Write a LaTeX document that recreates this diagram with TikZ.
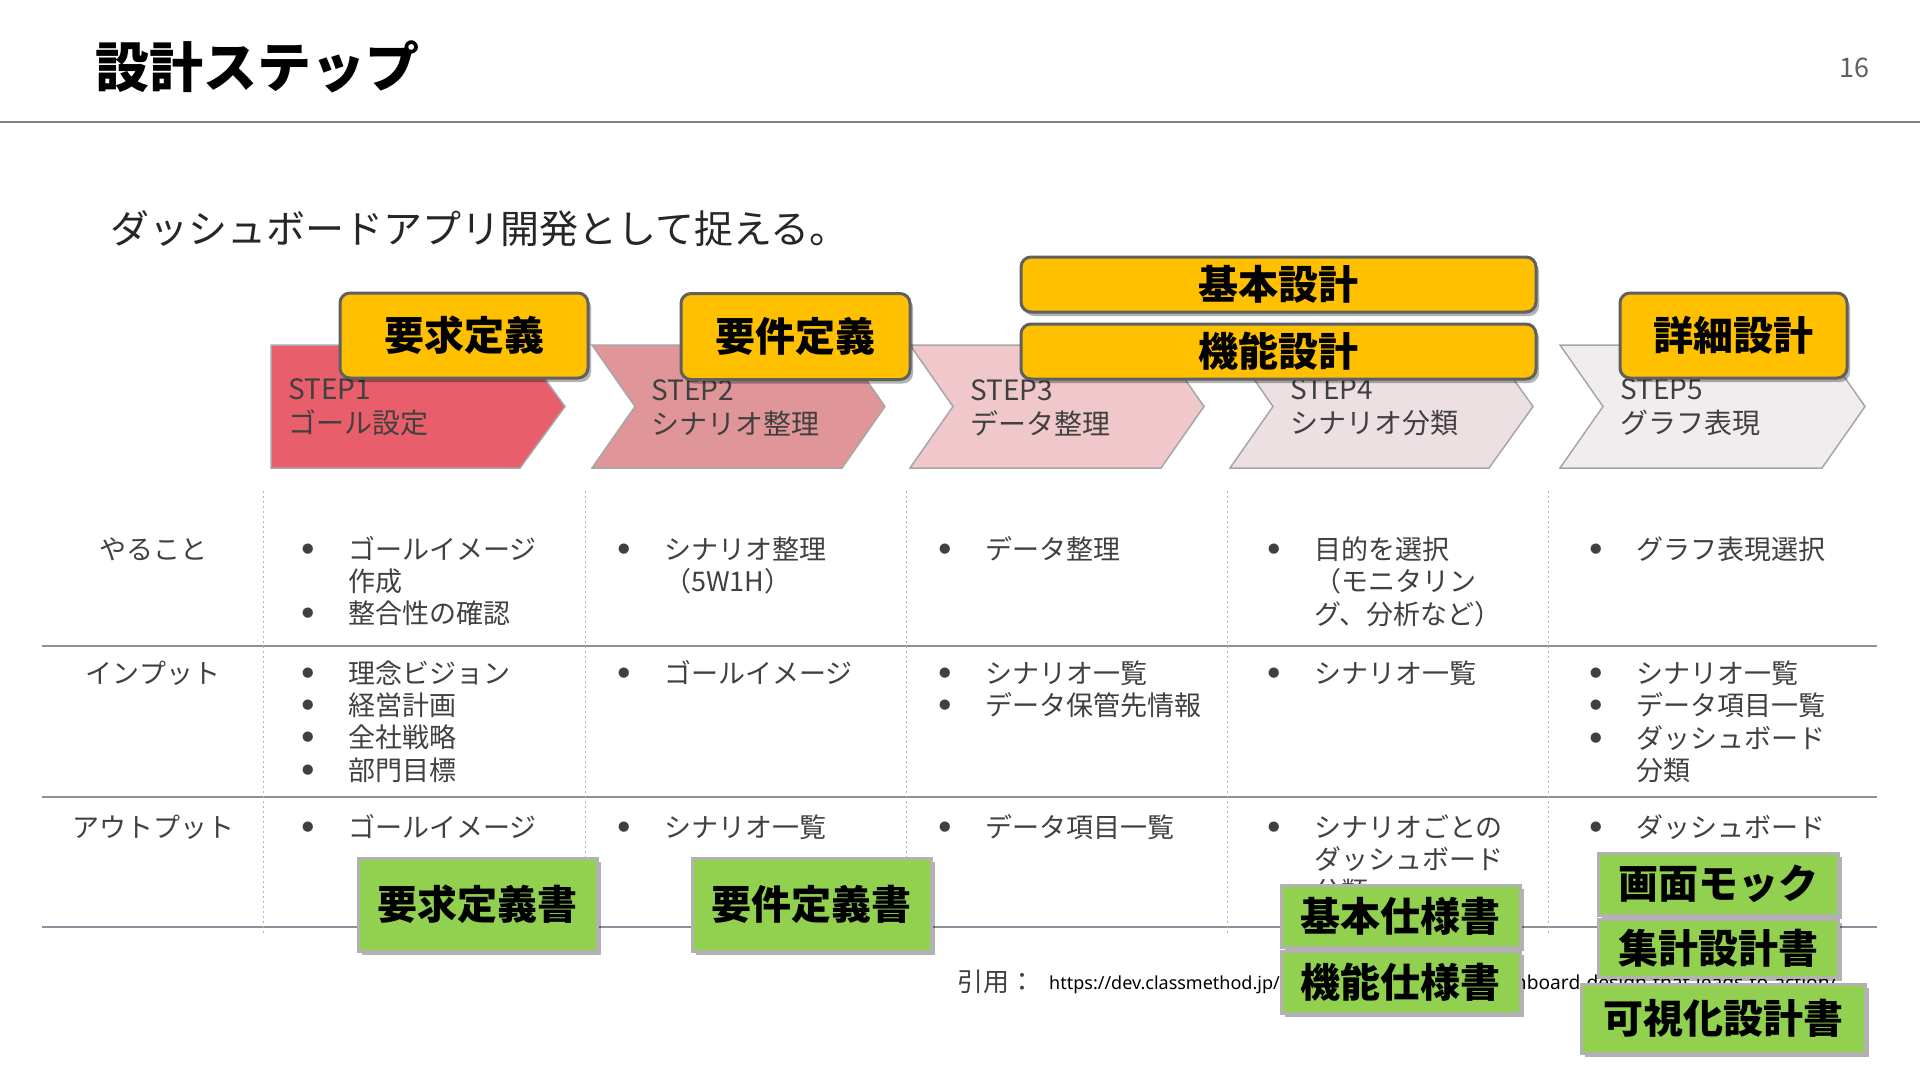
\documentclass[tikz,border=0pt]{standalone}
\usepackage{fontspec}
\setmainfont{Noto Sans CJK JP}
\newfontfamily\urlfont{Noto Sans}
\usetikzlibrary{positioning,shadows}

\definecolor{stepa}{RGB}{232,95,107}
\definecolor{stepb}{RGB}{224,150,153}
\definecolor{stepc}{RGB}{240,200,203}
\definecolor{stepd}{RGB}{237,224,226}
\definecolor{stepe}{RGB}{241,236,237}
\definecolor{phasefill}{RGB}{255,192,0}
\definecolor{docfill}{RGB}{146,208,80}
\definecolor{gridline}{RGB}{140,146,156}
\definecolor{bodytext}{RGB}{64,64,64}

\newcommand{\bl}{\makebox[46pt][l]{\raisebox{6pt}{\fontsize{11.5}{12}\selectfont ●}}}
\newcommand{\nb}{\hspace*{46pt}}
\newcommand{\items}[1]{\begin{tabular}[t]{@{}l@{}}#1\end{tabular}}

\begin{document}
\begin{tikzpicture}[x=1pt, y=-1pt,
	chev/.style={draw=gray!70, line width=1.5pt},
	steplabel/.style={anchor=west, align=left, inner sep=0pt, text=bodytext, font=\fontsize{28}{34}\selectfont},
	phase/.style={draw=gray!75!black, line width=3pt, fill=phasefill, rounded corners=10pt, inner sep=0pt,
		font=\bfseries\fontsize{40}{40}\selectfont, drop shadow={shadow xshift=3pt, shadow yshift=-4pt, fill=black, opacity=0.3}},
	docbox/.style={draw=gray!60, line width=3pt, fill=docfill, inner sep=0pt, minimum width=239pt,
		font=\bfseries\fontsize{40}{40}\selectfont, drop shadow={shadow xshift=4pt, shadow yshift=-4pt, fill=black, opacity=0.3}},
	rowhead/.style={anchor=base, inner sep=0pt, text=bodytext, font=\fontsize{27}{32}\selectfont},
	cell/.style={anchor=base west, inner sep=0pt, text=bodytext, font=\fontsize{27}{32}\selectfont},
	sep/.style={draw=gridline, line width=2pt},
	colsep/.style={draw=gray!60, line width=1pt, dash pattern=on 2pt off 3pt}]

	\useasboundingbox (0,0) rectangle (1920,1080);

	% header
	\node [anchor=west, inner sep=0pt, font=\bfseries\fontsize{54}{54}\selectfont] (title) at (95,67) {設計ステップ};
	\node [inner sep=0pt, text=gray!75!black, font=\fontsize{27}{27}\selectfont] (page) at (1854,68) {16};
	\draw [draw=gray, line width=2.5pt] (0,122) -- (1920,122);
	\node [anchor=west, inner sep=0pt, text=black!85, font=\fontsize{39}{39}\selectfont] (lead) at (110,229) {ダッシュボードアプリ開発として捉える。};

	% steps
	\draw [chev, fill=stepa] (271,345) -- (520,345) -- (565,406.5) -- (520,468) -- (271,468) -- cycle;
	\draw [chev, fill=stepb] (592,345) -- (842,345) -- (885,406.5) -- (842,468) -- (592,468) -- (635,406.5) -- cycle;
	\draw [chev, fill=stepc] (910,345) -- (1161,345) -- (1204,406.5) -- (1161,468) -- (910,468) -- (953,406.5) -- cycle;
	\draw [chev, fill=stepd] (1230,345) -- (1489,345) -- (1533,406.5) -- (1489,468) -- (1230,468) -- (1273,406.5) -- cycle;
	\draw [chev, fill=stepe] (1560,345) -- (1822,345) -- (1865,406.5) -- (1822,468) -- (1560,468) -- (1603,406.5) -- cycle;

	\node [steplabel] (s1) at (288,407.5) {STEP1\\ゴール設定};
	\node [steplabel] (s2) at (651,407.5) {STEP2\\シナリオ整理};
	\node [steplabel] (s3) at (970,407.5) {STEP3\\データ整理};
	\node [steplabel] (s4) at (1290,407.5) {STEP4\\シナリオ分類};
	\node [steplabel] (s5) at (1620,407.5) {STEP5\\グラフ表現};

	% phases
	\node [phase, minimum width=248pt, minimum height=85pt] (req) at (464,335.5) {要求定義};
	\node [phase, minimum width=229pt, minimum height=86pt] (reqs) at (795.5,336.5) {要件定義};
	\node [phase, minimum width=515pt, minimum height=55pt] (basic) at (1278.5,284.5) {基本設計};
	\node [phase, minimum width=515pt, minimum height=55pt, below=9pt of basic] (func) {機能設計};
	\node [phase, minimum width=227pt, minimum height=85pt] (detail) at (1733.5,335.5) {詳細設計};

	% table
	\draw [sep] (42,646) -- (1877,646);
	\draw [sep] (42,797) -- (1877,797);
	\draw [sep] (42,927) -- (1877,927);
	\draw [colsep] (263,491) -- (263,933);
	\draw [colsep] (585,491) -- (585,933);
	\draw [colsep] (906,491) -- (906,933);
	\draw [colsep] (1227,491) -- (1227,933);
	\draw [colsep] (1548,491) -- (1548,933);

	\node [rowhead] (todo) at (153,559) {やること};
	\node [rowhead] (input) at (153,683) {インプット};
	\node [rowhead] (output) at (153,837) {アウトプット};

	\node [cell] (todo1) at (302,559) {\items{\bl ゴールイメージ\\\nb 作成\\\bl 整合性の確認}};
	\node [cell] (todo2) at (618,559) {\items{\bl シナリオ整理\\\nb （5W1H）}};
	\node [cell] (todo3) at (939,559) {\items{\bl データ整理}};
	\node [cell] (todo4) at (1268,559) {\items{\bl 目的を選択\\\nb （モニタリン\\\nb グ、分析など）}};
	\node [cell] (todo5) at (1590,559) {\items{\bl グラフ表現選択}};

	\node [cell] (input1) at (302,683) {\items{\bl 理念ビジョン\\\bl 経営計画\\\bl 全社戦略\\\bl 部門目標}};
	\node [cell] (input2) at (618,683) {\items{\bl ゴールイメージ}};
	\node [cell] (input3) at (939,683) {\items{\bl シナリオ一覧\\\bl データ保管先情報}};
	\node [cell] (input4) at (1268,683) {\items{\bl シナリオ一覧}};
	\node [cell] (input5) at (1590,683) {\items{\bl シナリオ一覧\\\bl データ項目一覧\\\bl ダッシュボード\\\nb 分類}};

	\node [cell] (output1) at (302,837) {\items{\bl ゴールイメージ}};
	\node [cell] (output2) at (618,837) {\items{\bl シナリオ一覧}};
	\node [cell] (output3) at (939,837) {\items{\bl データ項目一覧}};
	\node [cell] (output4) at (1268,837) {\items{\bl シナリオごとの\\\nb ダッシュボード\\\nb 分類}};
	\node [cell] (output5) at (1590,837) {\items{\bl ダッシュボード}};

	% source
	\node [anchor=west, inner sep=0pt, text=bodytext, font=\fontsize{26}{26}\selectfont] (cite) at (957,982) {引用：};
	\node [anchor=base west, inner sep=0pt, font=\urlfont\fontsize{18}{18}\selectfont] (url) at (1049,989) {https://dev.classmethod.jp/};
	\node [anchor=base east, inner sep=0pt, font=\urlfont\fontsize{19.2}{19.2}\selectfont] (urltail) at (1837,989) {dashboard-design-that-leads-to-action/};

	% documents
	\node [docbox, minimum height=93pt] (reqdoc) at (477.5,904.5) {要求定義書};
	\node [docbox, minimum height=93pt] (reqsdoc) at (811.5,904.5) {要件定義書};
	\node [docbox, minimum height=62pt] (basicspec) at (1400.5,916) {基本仕様書};
	\node [docbox, minimum height=62pt, below=1pt of basicspec] (funcspec) {機能仕様書};
	\node [docbox, minimum width=240pt, minimum height=62pt] (mock) at (1718,884) {画面モック};
	\node [docbox, minimum width=240pt, minimum height=58pt, below=1pt of mock] (aggr) {集計設計書};
	\node [docbox, minimum width=284pt, minimum height=69pt] (vis) at (1723,1018.5) {可視化設計書};
\end{tikzpicture}
\end{document}
